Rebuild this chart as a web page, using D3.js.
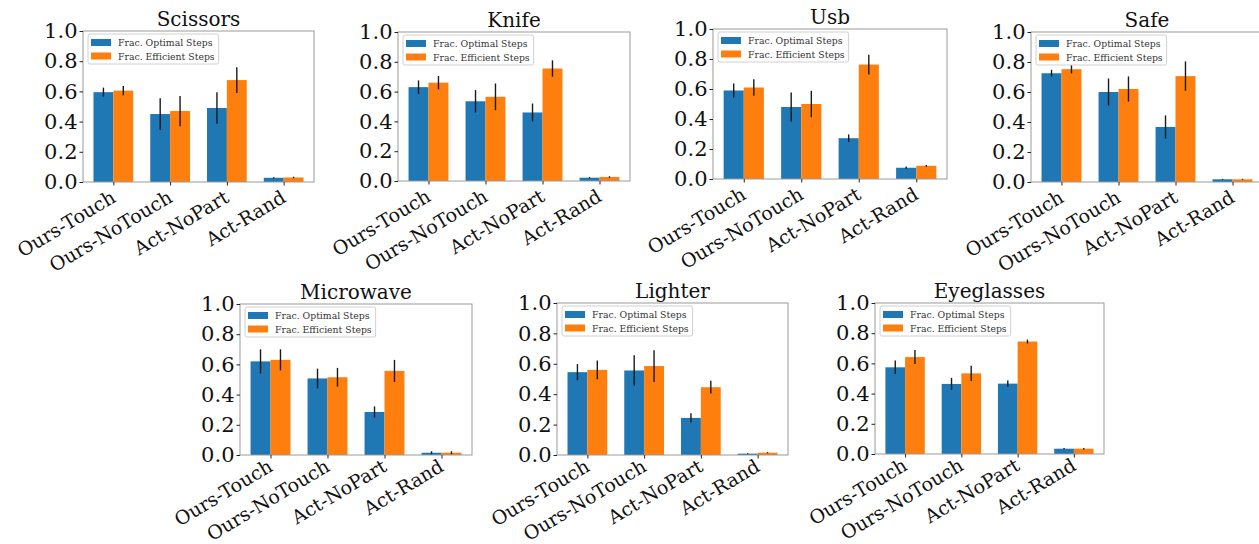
<!DOCTYPE html>
<html>
<head>
<meta charset="utf-8">
<script src="https://cdn.jsdelivr.net/npm/d3@7"></script>
<style>
body { margin: 0; background: #fff; }
text { font-family: 'DejaVu Serif', serif; }
</style>
</head>
<body>
<div id="graph"></div>
<script>
var titles = ['Scissors', 'Knife', 'Usb', 'Safe', 'Microwave', 'Lighter', 'Eyeglasses'];
var methods = ['Ours-Touch', 'Ours-NoTouch', 'Act-NoPart', 'Act-Rand'];
var seriesNames = ['Frac. Optimal Steps', 'Frac. Efficient Steps'];
var yTicks = [0, 0.2, 0.4, 0.6, 0.8, 1.0];

// one row per object, one value per method
var optimalMean = [
    [0.595, 0.45, 0.49, 0.028],
    [0.63, 0.535, 0.46, 0.022],
    [0.59, 0.48, 0.272, 0.075],
    [0.725, 0.60, 0.367, 0.018],
    [0.62, 0.507, 0.285, 0.015],
    [0.545, 0.556, 0.244, 0.009],
    [0.574, 0.464, 0.466, 0.035]
];
var optimalErr = [
    [0.03, 0.105, 0.105, 0.004],
    [0.045, 0.075, 0.06, 0.004],
    [0.047, 0.096, 0.025, 0.008],
    [0.023, 0.09, 0.077, 0.003],
    [0.08, 0.065, 0.037, 0.01],
    [0.053, 0.1, 0.03, 0.002],
    [0.045, 0.04, 0.021, 0.004]
];
var efficientMean = [
    [0.605, 0.47, 0.675, 0.03],
    [0.66, 0.565, 0.755, 0.027],
    [0.61, 0.50, 0.763, 0.088],
    [0.752, 0.62, 0.706, 0.018],
    [0.63, 0.515, 0.557, 0.015],
    [0.56, 0.585, 0.446, 0.015],
    [0.642, 0.534, 0.745, 0.035]
];
var efficientErr = [
    [0.03, 0.10, 0.085, 0.005],
    [0.045, 0.09, 0.055, 0.005],
    [0.055, 0.088, 0.066, 0.006],
    [0.028, 0.084, 0.098, 0.003],
    [0.07, 0.062, 0.073, 0.01],
    [0.062, 0.104, 0.042, 0.004],
    [0.046, 0.05, 0.013, 0.005]
];

// axes boxes: left, top, width, height, x-label drop
var panels = [
    [83, 31, 231, 151, 19],
    [398, 32, 232, 149, 19],
    [713, 29, 234, 150, 19],
    [1031, 32, 232, 150, 19],
    [240, 304, 232, 151, 15],
    [557, 303, 231, 152, 15],
    [875, 303, 229, 151, 15]
];

var blue = '#1f77b4',
    orange = '#ff7f0e';
var barWidth = 0.35;

var svg = d3.select('#graph')
    .append('svg')
        .attr('width', 1259)
        .attr('height', 544);

titles.forEach(function(title, p) {
    var box = panels[p];
    var w = box[2], h = box[3];

    var g = svg.append('g')
        .attr('transform', 'translate(' + box[0] + ',' + box[1] + ')');

    var x = d3.scaleLinear()
        .domain([-0.535, 3.535])
        .range([0, w]);
    var y = d3.scaleLinear()
        .domain([0, 1])
        .range([h, 0]);

    var series = [
        { mean: optimalMean[p], err: optimalErr[p], offset: -barWidth, color: blue },
        { mean: efficientMean[p], err: efficientErr[p], offset: 0, color: orange }
    ];

    series.forEach(function(s) {
        g.append('g')
            .selectAll('rect')
            .data(s.mean)
            .enter().append('rect')
            .attr('x', function(d, i) { return x(i + s.offset); })
            .attr('width', function(d, i) { return x(i + s.offset + barWidth) - x(i + s.offset); })
            .attr('y', function(d) { return y(d); })
            .attr('height', function(d) { return y(0) - y(d); })
            .style('fill', s.color);
    });

    series.forEach(function(s) {
        g.append('g')
            .selectAll('line')
            .data(s.mean)
            .enter().append('line')
            .attr('x1', function(d, i) { return x(i + s.offset + barWidth / 2); })
            .attr('x2', function(d, i) { return x(i + s.offset + barWidth / 2); })
            .attr('y1', function(d, i) { return y(d - s.err[i]); })
            .attr('y2', function(d, i) { return y(d + s.err[i]); })
            .style('stroke', '#1a1a1a')
            .style('stroke-width', 1.4);
    });

    // frame
    g.append('rect')
        .attr('width', w)
        .attr('height', h)
        .style('fill', 'none')
        .style('stroke', '#9a9a9a')
        .style('stroke-width', 1);

    var yAxis = g.append('g')
        .call(d3.axisLeft(y).tickValues(yTicks).tickFormat(d3.format('.1f')).tickSize(3.5).tickPadding(2));
    yAxis.select('.domain').remove();
    yAxis.selectAll('line').style('stroke', '#222');
    yAxis.selectAll('text')
        .style('font-size', '21px')
        .style('font-family', "'DejaVu Serif', serif")
        .style('fill', '#111');

    var xAxis = g.append('g')
        .attr('transform', 'translate(0,' + h + ')')
        .call(d3.axisBottom(x).tickValues([0, 1, 2, 3]).tickFormat(function(i) { return methods[i]; }).tickSize(3.5));
    xAxis.select('.domain').remove();
    xAxis.selectAll('line').style('stroke', '#222');
    xAxis.selectAll('text')
        .attr('y', 0)
        .attr('dy', null)
        .attr('text-anchor', 'end')
        .attr('transform', 'translate(3,' + box[4] + ') rotate(-31)')
        .style('font-size', '19px')
        .style('font-family', "'DejaVu Serif', serif")
        .style('fill', '#111');

    // title
    g.append('text')
        .attr('x', w / 2)
        .attr('y', -5)
        .attr('text-anchor', 'middle')
        .style('font-size', '20px')
        .style('fill', '#111')
        .text(title);

    // legend
    var legend = g.append('g')
        .attr('transform', 'translate(5,3)');
    var legendBox = legend.append('rect')
        .attr('height', 30)
        .attr('rx', 2)
        .style('fill', '#fff')
        .style('fill-opacity', 0.8)
        .style('stroke', '#d0d0d0');
    var maxLen = 0;
    seriesNames.forEach(function(name, k) {
        legend.append('rect')
            .attr('x', 3)
            .attr('y', 5 + k * 13.5)
            .attr('width', 20)
            .attr('height', 7)
            .style('fill', series[k].color);
        var t = legend.append('text')
            .attr('x', 30)
            .attr('y', 12 + k * 13.5)
            .style('font-size', '9.3px')
            .style('fill', '#333')
            .text(name);
        maxLen = Math.max(maxLen, t.node().getComputedTextLength());
    });
    legendBox.attr('width', 30 + maxLen + 4);
});
</script>
</body>
</html>
